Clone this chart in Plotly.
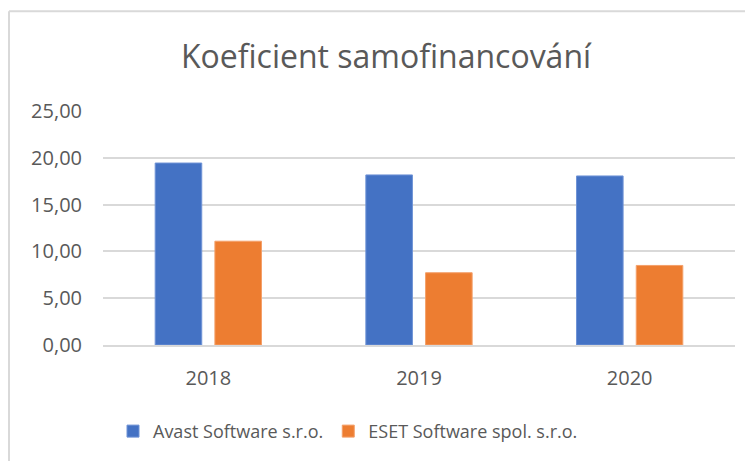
import plotly.graph_objects as go

years = ["2018", "2019", "2020"]
avast = [19.44, 18.17, 18.06]
eset = [11.09, 7.72, 8.50]
series_names = ["Avast Software s.r.o.", "ESET Software spol. s.r.o."]
y_ticks = [0, 5, 10, 15, 20, 25]
y_tick_labels = ["0,00", "5,00", "10,00", "15,00", "20,00", "25,00"]

FONT = "Open Sans"
GRAY = "#595959"

# browser body margin offset (8px) is compensated below
OFF = 8
W, H = 753 - OFF, 461 - OFF
PL, PR, PT, PB = 103, 735, 111, 345.7  # plot area in page pixels
pw, ph = PR - PL, PB - PT

def px(x):
    return (x - PL) / pw

def py(y):
    return (PB - y) / ph

fig = go.Figure()
fig.add_trace(go.Bar(x=years, y=avast, name=series_names[0],
                     marker=dict(color="#4472C4", line=dict(color="#6f93d6", width=1))))
fig.add_trace(go.Bar(x=years, y=eset, name=series_names[1],
                     marker=dict(color="#ED7D31", line=dict(color="#f4a06a", width=1))))

fig.update_layout(
    width=W, height=H,
    margin=dict(l=PL - OFF, r=W + OFF - PR, t=PT - OFF, b=H + OFF - PB),
    paper_bgcolor="white", plot_bgcolor="white",
    barmode="group", bargap=0.433, bargroupgap=0.22,
    font=dict(family=FONT, color=GRAY),
    title=dict(text="Koeficient samofinancování", x=(386 - OFF) / W, xanchor="center",
               y=1 - (57 - OFF) / H, yref="container", yanchor="middle",
               font=dict(family=FONT, size=32, color=GRAY)),
    legend=dict(orientation="h", x=px(113), xanchor="left", y=py(431), yanchor="middle",
                font=dict(family=FONT, size=18, color=GRAY),
                itemwidth=30, traceorder="normal"),
    showlegend=True,
)
fig.update_yaxes(range=[0, 25], tickvals=y_ticks, ticktext=y_tick_labels,
                 showgrid=True, gridcolor="#d9d9d9", gridwidth=1.5,
                 zeroline=False, showline=False,
                 tickfont=dict(family=FONT, size=20, color=GRAY),
                 ticklabelstandoff=20)
fig.update_xaxes(showline=True, linecolor="#d9d9d9", linewidth=1.5,
                 tickfont=dict(family=FONT, size=20, color=GRAY),
                 ticks="", ticklabelstandoff=14)

# chart-area border (left and top edges visible)
fig.add_shape(type="line", xref="paper", yref="paper",
              x0=px(9), x1=px(9), y0=py(470), y1=py(11),
              line=dict(color="#d9d9d9", width=2))
fig.add_shape(type="line", xref="paper", yref="paper",
              x0=px(9), x1=px(770), y0=py(11), y1=py(11),
              line=dict(color="#d9d9d9", width=2))

fig.write_html("out.html")
